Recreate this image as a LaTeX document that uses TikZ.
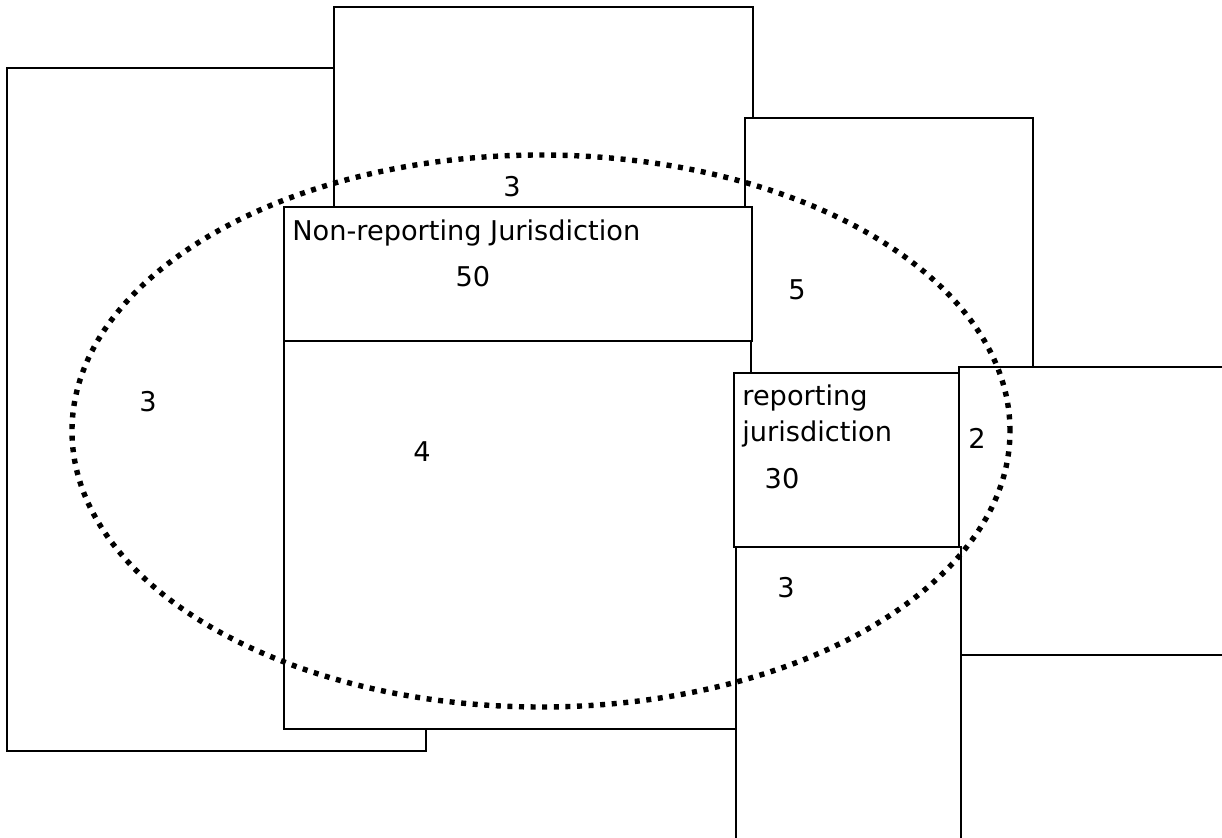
\documentclass[tikz,border=0pt]{standalone}
\usepackage{fontspec}
\setmainfont{DejaVu Sans}
\usetikzlibrary{positioning}

\begin{document}
\begin{tikzpicture}[
    x=0.5pt, y=-0.5pt,
    region/.style={draw, fill=white, line width=1pt},
    txt/.style={font=\fontsize{13.6}{18}\selectfont, inner sep=0pt},
    dotring/.style={line width=2.7pt, dash pattern=on 2.5pt off 3.3pt}
]
\useasboundingbox (0,0) rectangle (1222,838);
\clip (0,0) rectangle (1222,838);

% Regions, back to front
\draw[region] (7,68) rectangle (426,751);
\draw[region] (334,7) rectangle (753,420);
\draw[region] (745,118) rectangle (1033,450);
\draw[region] (284,207) rectangle (752,341);
\draw[region] (284,341) rectangle (751,729);
\draw[region] (734,373) rectangle (959,547);
\draw[region] (959,367) rectangle (1240,655);
\draw[region] (736,547) rectangle (961,860);
\draw[region] (961,655) rectangle (1240,860);

% Counts and names
\node[txt] (ctop) at (512,187) {3};
\node[txt, anchor=base west] (nonrep) at (292,241) {Non-reporting Jurisdiction};
\node[txt] (cnonrep) at (473,277) {50};
\node[txt] (cright) at (797,290) {5};
\node[txt] (cleft) at (148,402) {3};
\node[txt] (cmid) at (422,452) {4};
\node[txt, anchor=base west] (rep) at (742,406) {reporting};
\node[txt, anchor=base west] (repb) at (742,442) {jurisdiction};
\node[txt] (crep) at (782,479) {30};
\node[txt] (cfar) at (977,438) {2};
\node[txt] (clow) at (786,588) {3};

% Dotted boundary
\draw[dotring] (541,431) ellipse [x radius=234.5pt, y radius=138pt];

\end{tikzpicture}
\end{document}
